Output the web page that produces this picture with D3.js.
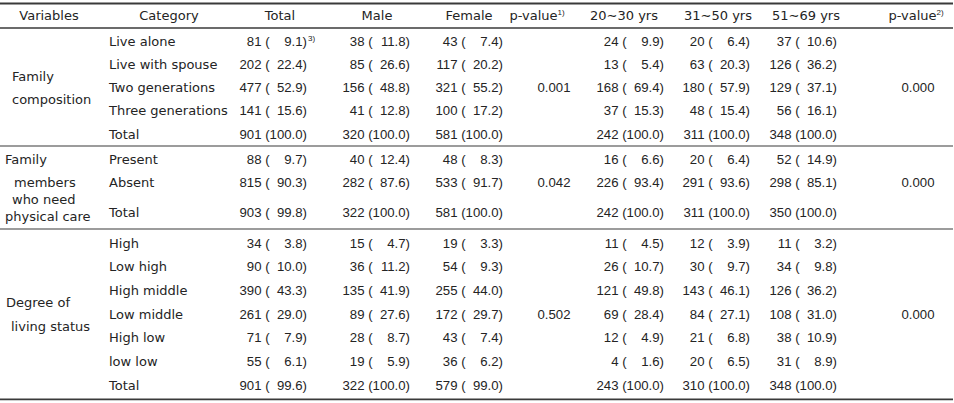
<!DOCTYPE html>
<html><head><meta charset="utf-8">
<script src="https://cdn.jsdelivr.net/npm/d3@7"></script>
<style>
html,body{margin:0;padding:0;background:#fff;}
svg{display:block;}
text{fill:#242424;}
.lbl{font-family:"DejaVu Sans",sans-serif;font-size:13px;}
.num{font-family:"Liberation Sans",Arial,sans-serif;font-size:13.2px;}
.sup{font-family:"Liberation Sans",Arial,sans-serif;font-size:8px;}
</style></head>
<body>
<svg id="chart" width="954" height="403"></svg>
<script>
// ---- data ----
const headers = ["Variables","Category","Total","Male","Female","p-value","20\u223C30 yrs","31\u223C50 yrs","51\u223C69 yrs","p-value"];
const headerSup = ["","","","","","1)","","","","2)"];
const variables = [["Family","composition"],["Family","members","who need","physical care"],["Degree of","living status"]];
const categories = [
  ["Live alone","Live with spouse","Two generations","Three generations","Total"],
  ["Present","Absent","Total"],
  ["High","Low high","High middle","Low middle","High low","low low","Total"]
];
const totalN   = [[81,202,477,141,901],[88,815,903],[34,90,390,261,71,55,901]];
const totalPct = [[9.1,22.4,52.9,15.6,100.0],[9.7,90.3,99.8],[3.8,10.0,43.3,29.0,7.9,6.1,99.6]];
const maleN    = [[38,85,156,41,320],[40,282,322],[15,36,135,89,28,19,322]];
const malePct  = [[11.8,26.6,48.8,12.8,100.0],[12.4,87.6,100.0],[4.7,11.2,41.9,27.6,8.7,5.9,100.0]];
const femaleN  = [[43,117,321,100,581],[48,533,581],[19,54,255,172,43,36,579]];
const femalePct= [[7.4,20.2,55.2,17.2,100.0],[8.3,91.7,100.0],[3.3,9.3,44.0,29.7,7.4,6.2,99.0]];
const age1N    = [[24,13,168,37,242],[16,226,242],[11,26,121,69,12,4,243]];
const age1Pct  = [[9.9,5.4,69.4,15.3,100.0],[6.6,93.4,100.0],[4.5,10.7,49.8,28.4,4.9,1.6,100.0]];
const age2N    = [[20,63,180,48,311],[20,291,311],[12,30,143,84,21,20,310]];
const age2Pct  = [[6.4,20.3,57.9,15.4,100.0],[6.4,93.6,100.0],[3.9,9.7,46.1,27.1,6.8,6.5,100.0]];
const age3N    = [[37,126,129,56,348],[52,298,350],[11,34,126,108,38,31,348]];
const age3Pct  = [[10.6,36.2,37.1,16.1,100.0],[14.9,85.1,100.0],[3.2,9.8,36.2,31.0,10.9,8.9,100.0]];
const pValue1  = ["0.001","0.042","0.502"];
const pValue2  = ["0.000","0.000","0.000"];
const footnoteMark = {group:0,row:0,col:"Total",mark:"3)"};

// ---- layout ----
const svg = d3.select("#chart");
const W = 954;
const colKeys = ["Variables","Category","Total","Male","Female","p1","A1","A2","A3","p2"];
const headerX = d3.scaleOrdinal().domain(colKeys).range([49,169,280,377,469,537,624,718,806,916]);
// right edge of "n (pct)" blocks / centers of p-value cells
const valueX = d3.scaleOrdinal().domain(["Total","Male","Female","p1","A1","A2","A3","p2"])
  .range([307,410,503,554,664,750,837,918]);
const valueCols = [
  {key:"Total", n:totalN, p:totalPct},
  {key:"Male", n:maleN, p:malePct},
  {key:"Female", n:femaleN, p:femalePct},
  {key:"A1", n:age1N, p:age1Pct},
  {key:"A2", n:age2N, p:age2Pct},
  {key:"A3", n:age3N, p:age3Pct}
];

const headerTop = 3.5, headerBottom = 28;
const groupRowHeights = [
  [24.5,23.3,23.3,23.3,23.6],
  [25,23.5,34.5],
  [26,23.67,23.67,23.67,23.67,23.67,26]
];
const rows = [], groupBounds = [];
let yCur = headerBottom;
categories.forEach((cats,g)=>{
  const top = yCur;
  cats.forEach((c,i)=>{
    const h = groupRowHeights[g][i];
    let cy = yCur + h/2;
    if (g===2 && i===0) cy = yCur + 14;
    if (g===2 && i===cats.length-1) cy = yCur + h - 14;
    if (g===0 && i===0) cy = yCur + 13;
    if (g===1 && i===0) cy = yCur + 13;
    if (g===1 && i===cats.length-1) cy = yCur + h - 17;
    rows.push({g,i,cat:c,y:cy});
    yCur += h;
  });
  groupBounds.push({top,bottom:yCur});
});

// rules
const lineColor = "#3a3a3a";
function rule(y,w){
  svg.append("line").attr("x1",0).attr("x2",W-1).attr("y1",y).attr("y2",y)
    .attr("stroke",lineColor).attr("stroke-width",w);
}
rule(headerTop,1.8);
rule(headerBottom,1.3);
groupBounds.forEach((b,g)=>rule(b.bottom, g===groupBounds.length-1?1.8:1.2));

// header
const hy = (headerTop+headerBottom)/2 + 4.5;
headers.forEach((h,i)=>{
  const t = svg.append("text").attr("class","lbl").attr("x",headerX(colKeys[i])).attr("y",hy)
    .attr("text-anchor","middle").text(h);
  if (headerSup[i]) t.append("tspan").attr("class","sup").attr("dy",-5).text(headerSup[i]);
});

// variable labels
const varIndents = [[12,12],[5,14,12,5],[6,11]];
variables.forEach((lines,g)=>{
  const gr = rows.filter(r=>r.g===g);
  let ys;
  if (g===0) ys = [ (gr[1].y+gr[2].y)/2 + 1, (gr[2].y+gr[3].y)/2 ];
  else if (g===1) ys = [gr[0].y, gr[1].y, gr[1].y + 16.5, gr[2].y + 4];
  else ys = [ (gr[2].y+gr[3].y)/2, (gr[3].y+gr[4].y)/2 ];
  lines.forEach((ln,j)=>{
    svg.append("text").attr("class","lbl").attr("x",varIndents[g][j]).attr("y",ys[j]+4.5).text(ln);
  });
});

// width of the widest pct part, so "(" is aligned per column
const probe = svg.append("text").attr("class","num").text("100.0)");
const wPct = probe.node().getComputedTextLength();
probe.remove();

const fmt = d3.format(".1f");
rows.forEach(r=>{
  const ty = r.y + 4.5;
  svg.append("text").attr("class","lbl").attr("x",109).attr("y",ty).text(r.cat);
  valueCols.forEach(vc=>{
    const right = valueX(vc.key);
    const n = vc.n[r.g][r.i], p = vc.p[r.g][r.i];
    svg.append("text").attr("class","num").attr("x",right-wPct).attr("y",ty)
      .attr("text-anchor","end").text(n+" (");
    svg.append("text").attr("class","num").attr("x",right).attr("y",ty)
      .attr("text-anchor","end").text(fmt(p)+")");
    if (footnoteMark.group===r.g && footnoteMark.row===r.i && footnoteMark.col===vc.key) {
      svg.append("text").attr("class","sup").attr("x",right+1).attr("y",ty-5).text(footnoteMark.mark);
    }
  });
});

// p-values
categories.forEach((cats,g)=>{
  const gr = rows.filter(r=>r.g===g);
  const mid = gr[Math.floor((gr.length-1)/2)];
  [["p1",pValue1],["p2",pValue2]].forEach(([k,arr])=>{
    svg.append("text").attr("class","num").attr("x",valueX(k)).attr("y",mid.y+4.5)
      .attr("text-anchor","middle").text(arr[g]);
  });
});
</script>
</body></html>
